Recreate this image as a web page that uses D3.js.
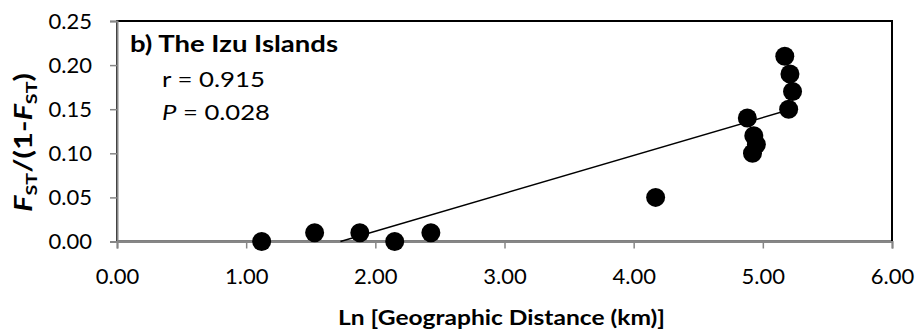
<!DOCTYPE html>
<html>
<head>
<meta charset="utf-8">
<script src="https://cdn.jsdelivr.net/npm/d3@7"></script>
<style>
  html, body { margin: 0; padding: 0; background: #fff; }
  svg { display: block; font-family: Lato, "Open Sans", sans-serif; }
</style>
</head>
<body>
<svg id="chart" width="920" height="336"></svg>
<script>
// Ln of geographic distance between island pairs and pairwise FST/(1-FST)
const lnDistance = [1.12, 1.53, 1.88, 2.15, 2.43, 4.17, 4.88, 4.93, 4.95, 4.92, 5.20, 5.23, 5.21, 5.17];
const fstRatio   = [0.00, 0.01, 0.01, 0.00, 0.01, 0.05, 0.14, 0.12, 0.11, 0.10, 0.15, 0.17, 0.19, 0.21];

const xTicks = [0, 1, 2, 3, 4, 5, 6];
const yTicks = [0, 0.05, 0.10, 0.15, 0.20, 0.25];

const panelTitle = "b) The Izu Islands";
const statR = "r = 0.915";
const statP = " = 0.028";
const xTitle = "Ln [Geographic Distance (km)]";

const svg = d3.select("#chart");
const m = { left: 117, right: 28, top: 21, bottom: 94.5 };
const W = 920, H = 336;

const x = d3.scaleLinear().domain([0, 6]).range([m.left, W - m.right]);
const y = d3.scaleLinear().domain([0, 0.25]).range([H - m.bottom, m.top]);

// plot area frame
svg.append("rect")
  .attr("x", x(0)).attr("y", y(0.25))
  .attr("width", x(6) - x(0)).attr("height", y(0) - y(0.25))
  .attr("fill", "none").attr("stroke", "#000").attr("stroke-width", 2);

// axes
const xAxis = svg.append("g")
  .attr("transform", `translate(0,${y(0)})`)
  .call(d3.axisBottom(x).tickValues(xTicks).tickFormat(d3.format(".2f")).tickSize(7).tickPadding(20));
const yAxis = svg.append("g")
  .attr("transform", `translate(${x(0)},0)`)
  .call(d3.axisLeft(y).tickValues(yTicks).tickFormat(d3.format(".2f")).tickSize(7).tickPadding(18));

[xAxis, yAxis].forEach(g => {
  g.select(".domain").attr("stroke", "#868686").attr("stroke-width", 2);
  g.selectAll(".tick line").attr("stroke", "#868686").attr("stroke-width", 1.5);
  g.selectAll(".tick text").attr("fill", "#000").style("font-size", "22px")
    .style("font-family", "Lato, sans-serif");
});

// least-squares trend line over the data range, clipped at the axis floor
const mx = d3.mean(lnDistance), my = d3.mean(fstRatio);
const sxy = d3.sum(lnDistance, (v, i) => (v - mx) * (fstRatio[i] - my));
const sxx = d3.sum(lnDistance, v => (v - mx) * (v - mx));
const slope = sxy / sxx, intercept = my - slope * mx;
const x0 = Math.max(d3.min(lnDistance), -intercept / slope);
const x1 = d3.max(lnDistance);
svg.append("line")
  .attr("x1", x(x0)).attr("y1", y(slope * x0 + intercept))
  .attr("x2", x(x1)).attr("y2", y(slope * x1 + intercept))
  .attr("stroke", "#000").attr("stroke-width", 1.5);

// data points
svg.append("g").selectAll("circle")
  .data(lnDistance.map((d, i) => [d, fstRatio[i]]))
  .join("circle")
  .attr("cx", d => x(d[0])).attr("cy", d => y(d[1]))
  .attr("r", 9.5).attr("fill", "#000");

// panel annotations
svg.append("text").attr("x", 130).attr("y", 52)
  .attr("textLength", 208).attr("lengthAdjust", "spacingAndGlyphs")
  .style("font-size", "22px").style("font-weight", "bold").text(panelTitle);
svg.append("text").attr("x", 162).attr("y", 86.5)
  .attr("textLength", 103).attr("lengthAdjust", "spacingAndGlyphs")
  .style("font-size", "22px").text(statR);
const pText = svg.append("text").attr("x", 162).attr("y", 120)
  .attr("textLength", 108).attr("lengthAdjust", "spacingAndGlyphs")
  .style("font-size", "22px");
pText.append("tspan").style("font-style", "italic").text("P");
pText.append("tspan").text(statP);

// axis titles
svg.append("text").attr("x", 501.5).attr("y", 325)
  .attr("text-anchor", "middle")
  .attr("textLength", 327).attr("lengthAdjust", "spacingAndGlyphs")
  .style("font-size", "21px").style("font-weight", "bold")
  .text(xTitle);

const yt = svg.append("text")
  .attr("transform", "translate(32,142.5) rotate(-90)")
  .attr("text-anchor", "middle")
  .attr("textLength", 139).attr("lengthAdjust", "spacingAndGlyphs")
  .style("font-size", "25px").style("font-weight", "bold");
yt.append("tspan").style("font-style", "italic").text("F");
yt.append("tspan").attr("dy", 5).style("font-size", "16px").text("ST");
yt.append("tspan").attr("dy", -5).text("/(1-");
yt.append("tspan").style("font-style", "italic").text("F");
yt.append("tspan").attr("dy", 5).style("font-size", "16px").text("ST");
yt.append("tspan").attr("dy", -5).text(")");
</script>
</body>
</html>
